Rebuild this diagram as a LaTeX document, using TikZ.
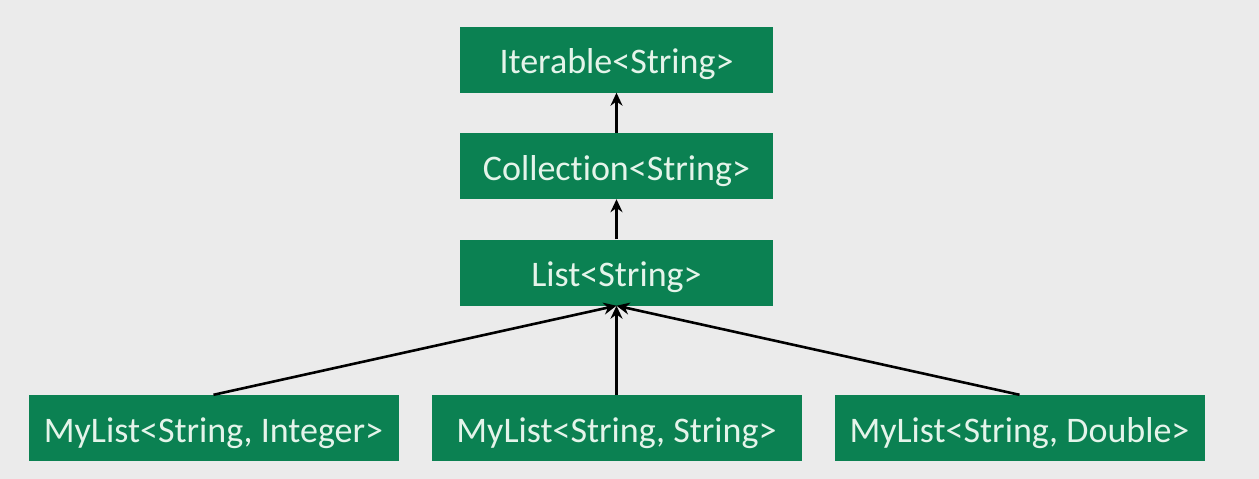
\documentclass[tikz,border=0pt]{standalone}
\usepackage{fontspec}
\setmainfont{Carlito}[Ligatures=NoCommon]
\usepackage{tikz}
\usetikzlibrary{arrows.meta}
\definecolor{boxgreen}{HTML}{0B8152}
\definecolor{boxtext}{HTML}{E4F4EA}
\definecolor{paper}{HTML}{EBEBEB}
\tikzset{
  typebox/.style={fill=boxgreen, text=boxtext, minimum width=313pt, minimum height=66pt,
    inner sep=0pt, text height=30pt, text depth=2pt, font=\fontsize{36}{40}\selectfont},
  subbox/.style={typebox, minimum width=370pt},
  inherits/.style={line width=2.6pt, -{Stealth[length=13pt, width=12pt]}}
}
\begin{document}
\begin{tikzpicture}[x=1pt, y=-1pt]
        \fill [paper] (0,0) rectangle (1259,479);                      %background
        \useasboundingbox (0,0) rectangle (1259,479);
        \node [typebox] (iterable)   at (616.5,59.5) {Iterable<String>};   %top
        \node [typebox] (collection) at (616.5,166)  {Collection<String>}; %
        \node [typebox] (list)       at (616.5,272.5){List<String>};       %
        \node [subbox]  (mlinteger)  at (213.5,428)  {MyList<String, Integer>};
        \node [subbox]  (mlstring)   at (616.5,428)  {MyList<String, String>};
        \node [subbox]  (mldouble)   at (1019.5,428) {MyList<String, Double>};
        \draw [inherits] (collection) -- (iterable);                   %
        \draw [inherits] (list)       -- (collection);                 %
        \draw [inherits] (mlinteger.north) -- (list.south);            %
        \draw [inherits] (mlstring)        -- (list.south);            %
        \draw [inherits] (mldouble.north)  -- (list.south);            %
      \end{tikzpicture}
\end{document}
